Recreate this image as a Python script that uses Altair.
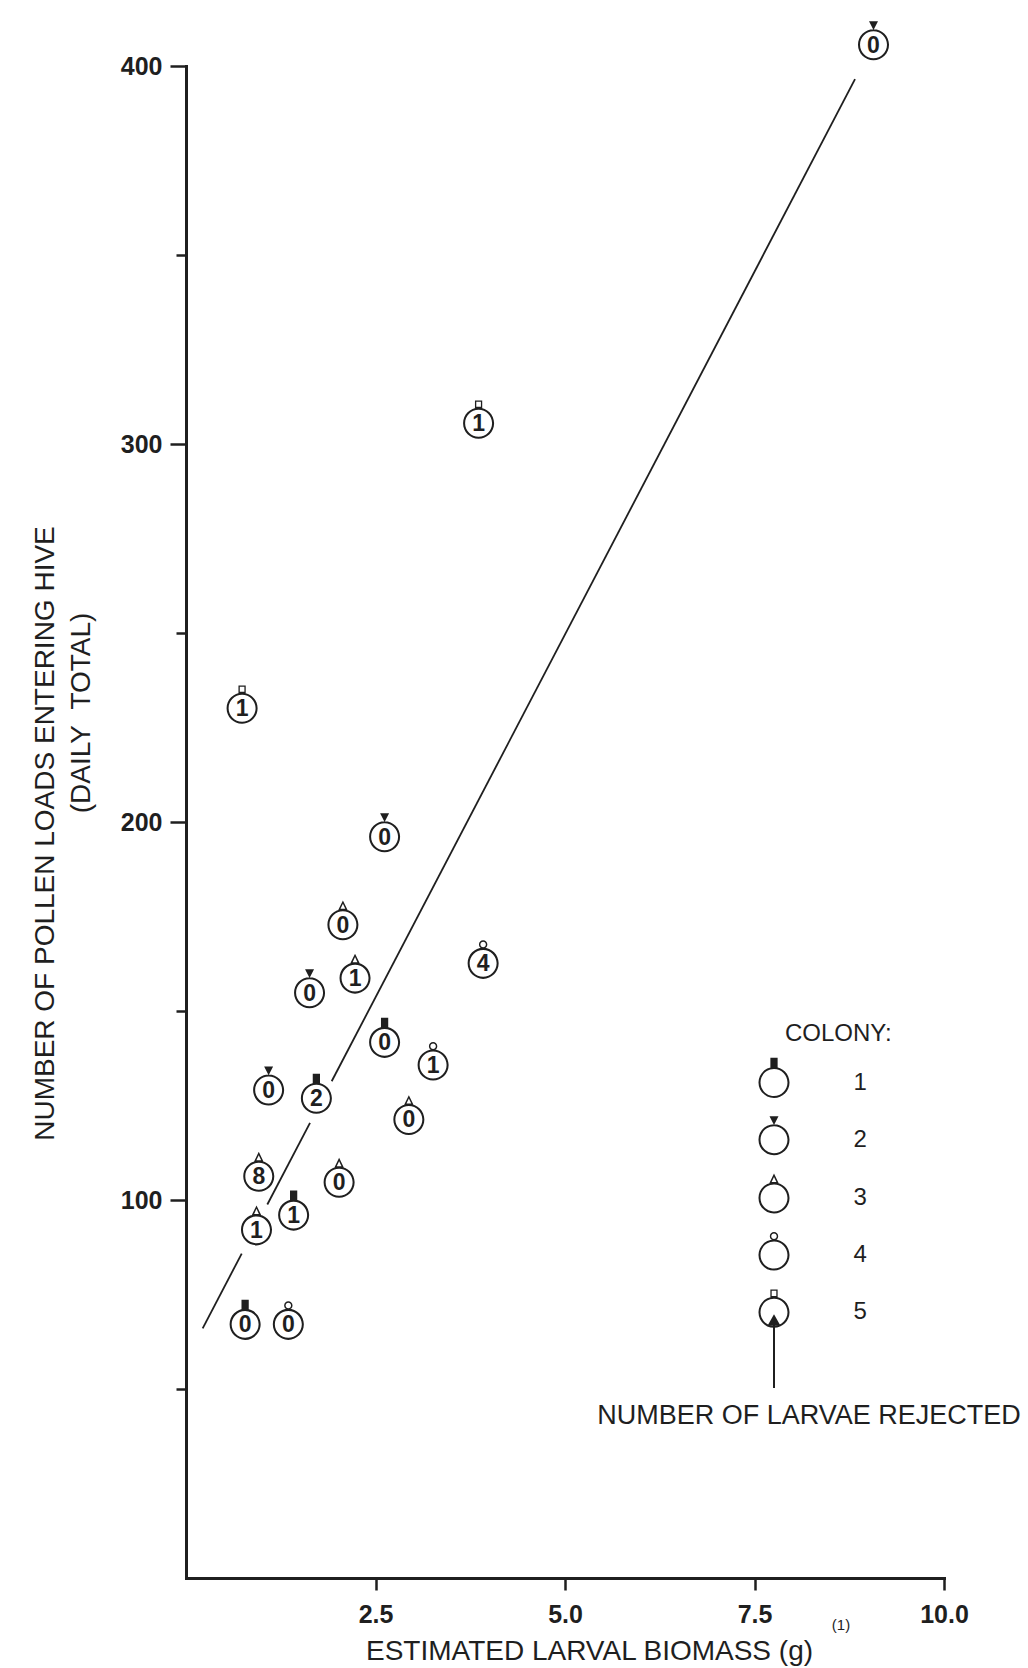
import altair as alt
import pandas as pd

INK = "#1f1f1f"
FONT = "Liberation Sans"

# Daily observations: estimated larval biomass (g), pollen loads entering the hive,
# colony number and number of larvae rejected (printed inside each circle).
biomass = [9.07, 3.86, 0.74, 2.62, 2.07, 2.23, 1.63, 3.92, 2.62, 3.26,
           1.09, 1.72, 2.94, 0.96, 2.02, 1.42, 0.93, 0.78, 1.35]
pollen_loads = [405.6, 305.5, 230.1, 196.1, 172.8, 158.7, 154.8, 162.6, 141.7, 135.7,
                129.1, 126.9, 121.3, 106.3, 104.7, 96.0, 92.1, 67.1, 67.1]
colony = ["2", "5", "5", "2", "3", "3", "2", "4", "1", "4",
          "2", "1", "3", "3", "3", "1", "3", "1", "4"]
rejected = [0, 1, 1, 0, 0, 1, 0, 4, 0, 1, 0, 2, 0, 8, 0, 1, 1, 0, 0]

# Fitted regression line; it is drawn in pieces, broken where it runs through a circle.
fit_intercept = 57.6
fit_slope = 38.4
line_pieces = [(0.22, 0.735), (1.073, 1.636), (1.922, 8.826)]

colonies = ["1", "2", "3", "4", "5"]
x_ticks = [2.5, 5.0, 7.5, 10.0]
y_ticks = [50, 100, 150, 200, 250, 300, 350, 400]

obs = pd.DataFrame({
    "biomass": biomass,
    "pollen": pollen_loads,
    "colony": colony,
    "rejected": [str(r) for r in rejected],
})

seg_rows = []
for i, (x0, x1) in enumerate(line_pieces):
    for xv in (x0, x1):
        seg_rows.append({"piece": i, "biomass": xv, "pollen": fit_intercept + fit_slope * xv})
fit_line = pd.DataFrame(seg_rows)

# Marker paths in unit space (radius 1 = open circle); each colony has its own
# small glyph sitting on top of the circle.  Holes use reversed winding.
RING = ("M 1.07 0 A 1.07 1.07 0 1 1 -1.07 0 A 1.07 1.07 0 1 1 1.07 0 Z "
        "M 0.93 0 A 0.93 0.93 0 1 0 -0.93 0 A 0.93 0.93 0 1 0 0.93 0 Z")
GLYPHS = {
    "1": "M -0.25 -1.7 L 0.25 -1.7 L 0.25 -1 L -0.25 -1 Z",
    "2": "M -0.31 -1.62 L 0.31 -1.62 L 0 -1.02 Z",
    "3": "M 0 -1.68 L 0.33 -1 L -0.33 -1 Z M 0 -1.45 L -0.165 -1.1 L 0.165 -1.1 Z",
    "4": ("M 0.29 -1.3 A 0.29 0.29 0 1 1 -0.29 -1.3 A 0.29 0.29 0 1 1 0.29 -1.3 Z "
          "M 0.19 -1.3 A 0.19 0.19 0 1 0 -0.19 -1.3 A 0.19 0.19 0 1 0 0.19 -1.3 Z"),
    "5": ("M -0.25 -1.57 L 0.25 -1.57 L 0.25 -1 L -0.25 -1 Z "
          "M -0.16 -1.48 L -0.16 -1.13 L 0.16 -1.13 L 0.16 -1.48 Z"),
}
marker_paths = [RING + " " + GLYPHS[c] for c in colonies]
MARKER_SIZE = 841  # 29 px across

x_enc = alt.X(
    "biomass:Q",
    scale=alt.Scale(domain=[0, 10], nice=False, zero=True),
    axis=alt.Axis(
        values=x_ticks, format=".1f", grid=False,
        domainColor=INK, domainWidth=3, domainCap="square",
        tickColor=INK, tickWidth=2.5, tickSize=12,
        labelFont=FONT, labelFontWeight="bold", labelFontSize=25, labelColor=INK,
        labelPadding=12, labelFlush=False, labelOverlap=False,
        title="ESTIMATED LARVAL BIOMASS (g)",
        titleFont=FONT, titleFontSize=28, titleFontWeight="normal", titleColor=INK,
        titleX=403, titleY=81, titleAlign="center", titleBaseline="alphabetic",
    ),
)
y_enc = alt.Y(
    "pollen:Q",
    scale=alt.Scale(domain=[0, 400], nice=False, zero=True),
    axis=alt.Axis(
        values=y_ticks, grid=False,
        labelExpr="datum.value % 100 === 0 ? datum.label : ''",
        domainColor=INK, domainWidth=3, domainCap="square",
        tickColor=INK, tickWidth=2.5,
        tickSize={"condition": {"test": "datum.value % 100 === 0", "value": 16}, "value": 10},
        labelFont=FONT, labelFontWeight="bold", labelFontSize=25, labelColor=INK,
        labelPadding=8,
        title="NUMBER OF POLLEN LOADS ENTERING HIVE",
        titleFont=FONT, titleFontSize=28, titleFontWeight="normal", titleColor=INK,
        titleAngle=270, titleX=-133, titleY=767, titleAlign="center",
        titleBaseline="alphabetic",
    ),
)

line = alt.Chart(fit_line).mark_line(color=INK, strokeWidth=1.8).encode(
    x=x_enc, y=y_enc, detail="piece:N"
)

points = alt.Chart(obs).mark_point(
    filled=True, size=MARKER_SIZE, opacity=1, color=INK, strokeWidth=0
).encode(
    x=x_enc,
    y=y_enc,
    shape=alt.Shape(
        "colony:N",
        scale=alt.Scale(domain=colonies, range=marker_paths),
        legend=alt.Legend(
            title="COLONY:", orient="none", legendX=599, legendY=956,
            direction="vertical", padding=0,
            titleFont=FONT, titleFontSize=24, titleFontWeight="normal",
            titleColor=INK, titleAnchor="start", titlePadding=22,
            labelFont=FONT, labelFontSize=24, labelColor=INK,
            labelOffset=65, symbolOffset=-25.5, symbolSize=MARKER_SIZE,
            symbolFillColor=INK, symbolStrokeWidth=0, rowPadding=17.2,
        ),
    ),
)

digits = alt.Chart(obs).mark_text(
    font=FONT, fontWeight="bold", fontSize=23, color=INK,
    align="center", baseline="middle", dy=1,
).encode(x=x_enc, y=y_enc, text="rejected:N")

# Second line of the y-axis title.
daily = alt.Chart(pd.DataFrame({"t": ["(DAILY\u00a0\u00a0TOTAL)"]})).mark_text(
    font=FONT, fontSize=28, color=INK, angle=270, align="center", baseline="alphabetic"
).encode(x=alt.value(-96), y=alt.value(647), text="t:N")

# Footnote marker on the x-axis title.
footnote = alt.Chart(pd.DataFrame({"t": ["(1)"]})).mark_text(
    font=FONT, fontSize=15, color=INK, align="center", baseline="middle"
).encode(x=alt.value(655), y=alt.value(1559), text="t:N")

# Arrow pointing into the legend circle, explaining the number inside it.
arrow_shaft = alt.Chart(pd.DataFrame({"k": [0]})).mark_rule(
    color=INK, strokeWidth=2
).encode(x=alt.value(588), y=alt.value(1256), y2=alt.value(1322))
arrow_head = alt.Chart(pd.DataFrame({"k": [0]})).mark_point(
    shape="triangle-up", filled=True, size=169, opacity=1, color=INK, strokeWidth=0
).encode(x=alt.value(588), y=alt.value(1254))
note = alt.Chart(pd.DataFrame({"t": ["NUMBER OF LARVAE REJECTED"]})).mark_text(
    font=FONT, fontSize=27, color=INK, align="center", baseline="middle"
).encode(x=alt.value(623), y=alt.value(1350), text="t:N")

chart = alt.layer(
    line, points, digits, daily, footnote, arrow_shaft, arrow_head, note
).properties(
    width=758,
    height=1512,
    autosize=alt.AutoSizeParams(type="none"),
    padding={"left": 186, "top": 66, "right": 84, "bottom": 90},
    background="white",
).configure_view(strokeWidth=0)

chart.save("out.html", embed_options={"renderer": "svg", "actions": False})
